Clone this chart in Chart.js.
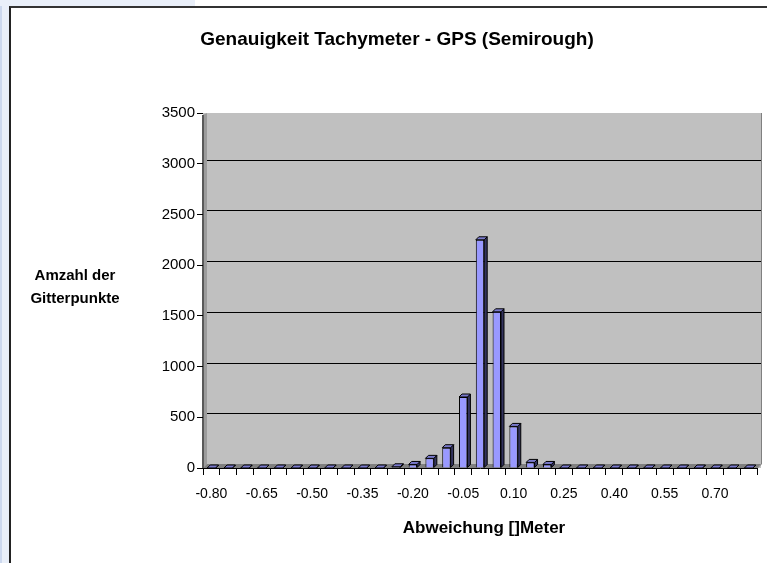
<!DOCTYPE html>
<html>
<head>
<meta charset="utf-8">
<script src="https://cdn.jsdelivr.net/npm/chart.js@4"></script>
<style>
  body { margin: 0; background: #fff; width: 767px; height: 563px; overflow: hidden; position: relative; }
  #leiste { position: absolute; left: 0; top: 0; width: 9px; height: 563px; background: #E9EFF9; border-left: 2px solid #CCD8EE; box-sizing: border-box; }
  #ecke { position: absolute; left: 0; top: 0; width: 195px; height: 6px; background: #E9EFF9; }
  #rahmen { position: absolute; left: 9px; top: 6px; width: 758px; height: 557px; border-left: 2px solid #222; border-top: 2px solid #333; box-sizing: border-box; }
  #grafico { display: block; }
</style>
</head>
<body>
<div id="leiste"></div>
<div id="ecke"></div>
<div id="rahmen">
  <canvas id="grafico" width="756" height="555"></canvas>
</div>
<script>
const kategorien = ['-0.80', '-0.75', '-0.70', '-0.65', '-0.60', '-0.55', '-0.50', '-0.45', '-0.40', '-0.35', '-0.30',
  '-0.25', '-0.20', '-0.15', '-0.10', '-0.05', '0.00', '0.05', '0.10', '0.15', '0.20', '0.25',
  '0.30', '0.35', '0.40', '0.45', '0.50', '0.55', '0.60', '0.65', '0.70', '0.75', '0.80'];
const anzahl = [0, 0, 0, 0, 0, 0, 0, 0, 0, 0, 0,
  12, 35, 95, 200, 700, 2250, 1540, 410, 55, 35, 0,
  0, 0, 0, 0, 0, 0, 0, 0, 0, 0, 0];
const yTicks = [0, 500, 1000, 1500, 2000, 2500, 3000, 3500];

const titel = 'Genauigkeit Tachymeter - GPS (Semirough)';
const yTitel = ['Amzahl der', 'Gitterpunkte'];
const xTitel = 'Abweichung []Meter';

const schrift = '"Liberation Sans", Arial, sans-serif';
const tiefe = 4;   // 3D Versatz der Rückwand
const balkenTiefe = 3;

// Rückwand, Boden, Gitterlinien
const wand = {
  id: 'wand',
  beforeDraw(chart) {
    const { ctx, chartArea: a, scales } = chart;
    ctx.save();
    ctx.fillStyle = '#C0C0C0';
    ctx.fillRect(a.left, a.top, a.right - a.left + tiefe, a.bottom - a.top);
    // linke Seitenwand
    ctx.fillStyle = '#9C9C9C';
    ctx.beginPath();
    ctx.moveTo(a.left, a.top + 2);
    ctx.lineTo(a.left + tiefe, a.top);
    ctx.lineTo(a.left + tiefe, a.bottom - tiefe);
    ctx.lineTo(a.left, a.bottom);
    ctx.closePath();
    ctx.fill();
    // Boden
    ctx.fillStyle = '#808080';
    ctx.beginPath();
    ctx.moveTo(a.left, a.bottom);
    ctx.lineTo(a.left + tiefe, a.bottom - tiefe);
    ctx.lineTo(a.right + tiefe, a.bottom - tiefe);
    ctx.lineTo(a.right, a.bottom);
    ctx.closePath();
    ctx.fill();
    // Gitter auf der Rückwand
    ctx.strokeStyle = '#000';
    ctx.lineWidth = 1;
    yTicks.forEach(v => {
      if (v === 0 || v === 3500) return;
      const y = Math.round(scales.y.getPixelForValue(v) - tiefe) + 0.5;
      ctx.beginPath();
      ctx.moveTo(a.left + tiefe, y);
      ctx.lineTo(a.right + tiefe, y);
      ctx.stroke();
    });
    // Kante rechts und Achse links
    ctx.strokeStyle = '#808080';
    ctx.beginPath();
    ctx.moveTo(a.right + tiefe + 0.5, a.top);
    ctx.lineTo(a.right + tiefe + 0.5, a.bottom - tiefe);
    ctx.lineTo(a.right + 0.5, a.bottom);
    ctx.stroke();
    ctx.strokeStyle = '#5A5A5A';
    ctx.lineWidth = 2;
    ctx.beginPath();
    ctx.moveTo(a.left, a.top + 2);
    ctx.lineTo(a.left, a.bottom);
    ctx.stroke();
    ctx.restore();
  }
};

// Seiten- und Deckfläche der Säulen
const saeulen3d = {
  id: 'saeulen3d',
  afterDatasetsDraw(chart) {
    const { ctx } = chart;
    const d = balkenTiefe;
    ctx.save();
    ctx.lineWidth = 1;
    ctx.strokeStyle = '#000';
    chart.getDatasetMeta(0).data.forEach(bar => {
      const l = bar.x - bar.width / 2;
      const r = bar.x + bar.width / 2;
      const y = bar.y;
      const b = bar.base;
      ctx.fillStyle = '#33335E';
      ctx.beginPath();
      ctx.moveTo(r, y);
      ctx.lineTo(r + d, y - d);
      ctx.lineTo(r + d, b - d);
      ctx.lineTo(r, b);
      ctx.closePath();
      ctx.fill();
      ctx.stroke();
      ctx.fillStyle = '#7A7ACC';
      ctx.beginPath();
      ctx.moveTo(l, y);
      ctx.lineTo(l + d, y - d);
      ctx.lineTo(r + d, y - d);
      ctx.lineTo(r, y);
      ctx.closePath();
      ctx.fill();
      ctx.stroke();
    });
    ctx.restore();
  }
};

// Diagrammtitel und Achsentitel
const beschriftung = {
  id: 'beschriftung',
  afterDraw(chart) {
    const { ctx } = chart;
    ctx.save();
    ctx.fillStyle = '#000';
    ctx.textAlign = 'center';
    ctx.textBaseline = 'middle';
    ctx.font = 'bold 19px ' + schrift;
    ctx.fillText(titel, 386, 32);
    ctx.font = 'bold 15px ' + schrift;
    ctx.fillText(yTitel[0], 64, 268);
    ctx.fillText(yTitel[1], 64, 291);
    ctx.font = 'bold 17px ' + schrift;
    ctx.fillText(xTitel, 473, 520);
    ctx.restore();
  }
};

const canva = document.getElementById('grafico');
new Chart(canva, {
  type: 'bar',
  data: {
    labels: kategorien,
    datasets: [{
      data: anzahl,
      backgroundColor: '#9999FF',
      borderColor: '#000',
      borderWidth: 1,
      barPercentage: 0.5,
      categoryPercentage: 1
    }]
  },
  options: {
    responsive: false,
    animation: false,
    devicePixelRatio: 1,
    layout: { padding: { left: 132, top: 105, right: 10, bottom: 55 } },
    plugins: {
      legend: { display: false },
      title: { display: false },
      tooltip: { enabled: false }
    },
    scales: {
      x: {
        afterFit: scale => { scale.height = 40; },
        grid: { offset: true, drawOnChartArea: false, tickLength: 7, tickColor: '#000' },
        border: { color: '#000', width: 1 },
        ticks: {
          autoSkip: false,
          maxRotation: 0,
          padding: 11,
          color: '#000',
          font: { family: schrift, size: 14 },
          callback: function (value, index) {
            return index % 3 === 0 ? this.getLabelForValue(value) : '';
          }
        }
      },
      y: {
        min: 0,
        max: 3500,
        afterFit: scale => { scale.width = 60; },
        grid: { drawOnChartArea: false, tickLength: 6, tickColor: '#000' },
        border: { display: false },
        ticks: {
          stepSize: 500,
          padding: 2,
          color: '#000',
          font: { family: schrift, size: 15 },
          callback: value => String(value)
        }
      }
    }
  },
  plugins: [wand, saeulen3d, beschriftung]
});
</script>
</body>
</html>
